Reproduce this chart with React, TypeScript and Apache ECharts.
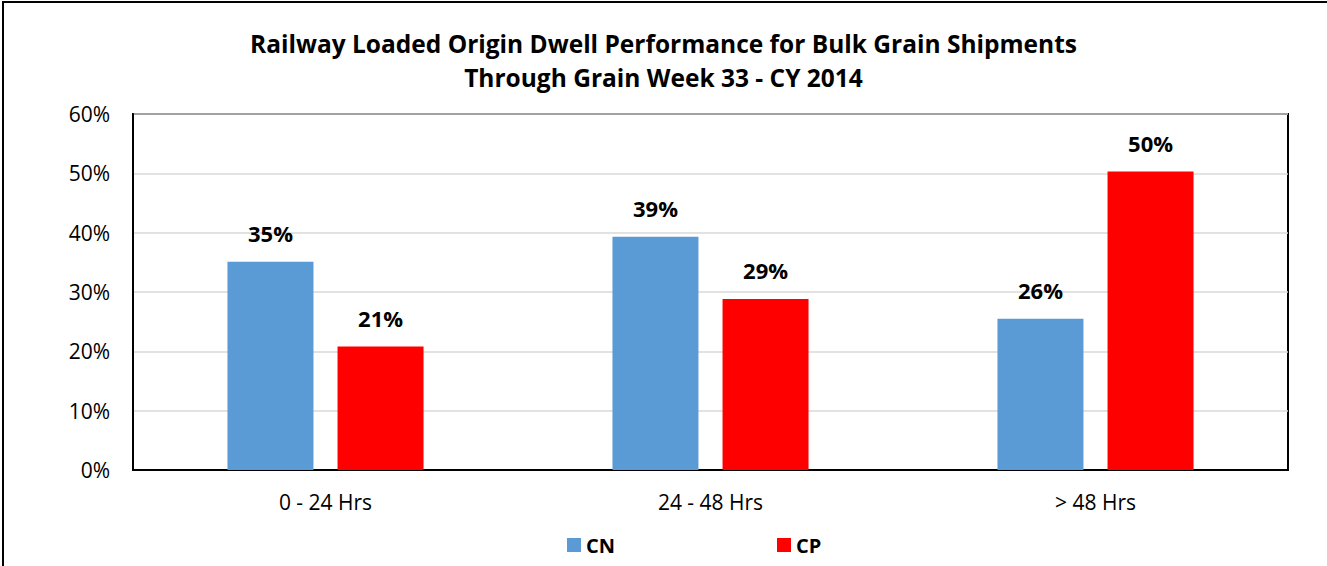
import React, { useEffect, useRef } from "react";
import * as echarts from "echarts";

const categories = ["0 - 24 Hrs", "24 - 48 Hrs", "> 48 Hrs"];
const cnValues = [35.1, 39.3, 25.5];
const cpValues = [20.8, 28.8, 50.3];
const yTicks = [0, 10, 20, 30, 40, 50, 60];

const FONT = "'Open Sans', sans-serif";

export default function App() {
  const ref = useRef<HTMLDivElement>(null);
  useEffect(() => {
    document.body.style.margin = "0";
    const chart = echarts.init(ref.current!, null, { renderer: "svg" });
    const labelStyle = {
      show: true,
      position: "top" as const,
      distance: 18,
      formatter: (p: any) => Math.round(p.value) + "%",
      fontFamily: FONT,
      fontWeight: "bold" as const,
      fontSize: 22,
      color: "#000",
    };
    chart.setOption({
      animation: false,
      backgroundColor: "#fff",
      title: {
        text: "Railway Loaded Origin Dwell Performance for Bulk Grain Shipments\nThrough Grain Week 33 - CY 2014",
        left: "center",
        top: 21,
        textStyle: {
          fontFamily: FONT,
          fontWeight: "bold",
          fontSize: 24.5,
          lineHeight: 34,
          color: "#000",
        },
      },
      graphic: [
        {
          type: "rect",
          shape: { x: 3, y: 2, width: 1400, height: 600 },
          style: { fill: "none", stroke: "#000", lineWidth: 2 },
          silent: true,
          z: 100,
        },
      ],
      legend: {
        top: 530,
        left: 562,
        itemWidth: 14,
        itemHeight: 14,
        itemGap: 162,
        icon: "rect",
        textStyle: { fontFamily: FONT, fontWeight: "bold", fontSize: 20, color: "#000" },
        data: ["CN", "CP"],
      },
      grid: { left: 133, right: 39, top: 114, bottom: 96, show: true, borderColor: "#000", borderWidth: 2 },
      xAxis: {
        type: "category",
        data: categories,
        axisTick: { show: false },
        axisLine: { lineStyle: { color: "#000", width: 2 } },
        axisLabel: { fontFamily: FONT, fontSize: 21, color: "#000", margin: 21 },
      },
      yAxis: {
        type: "value",
        min: yTicks[0],
        max: yTicks[yTicks.length - 1],
        interval: 10,
        axisLine: { show: true, lineStyle: { color: "#000", width: 2 } },
        axisTick: { show: false },
        splitLine: { lineStyle: { color: "#d9d9d9", width: 1.5 } },
        axisLabel: { fontFamily: FONT, fontSize: 21, color: "#000", margin: 23, formatter: "{value}%" },
      },
      series: [
        {
          name: "CN",
          type: "bar",
          data: cnValues,
          barWidth: 86,
          barGap: "28%",
          itemStyle: { color: "#5b9bd5" },
          label: labelStyle,
        },
        {
          name: "CP",
          type: "bar",
          data: cpValues,
          barWidth: 86,
          itemStyle: { color: "#ff0000" },
          label: labelStyle,
        },
      ],
    });
    return () => chart.dispose();
  }, []);
  return <div ref={ref} style={{ width: 1327, height: 566 }} />;
}
